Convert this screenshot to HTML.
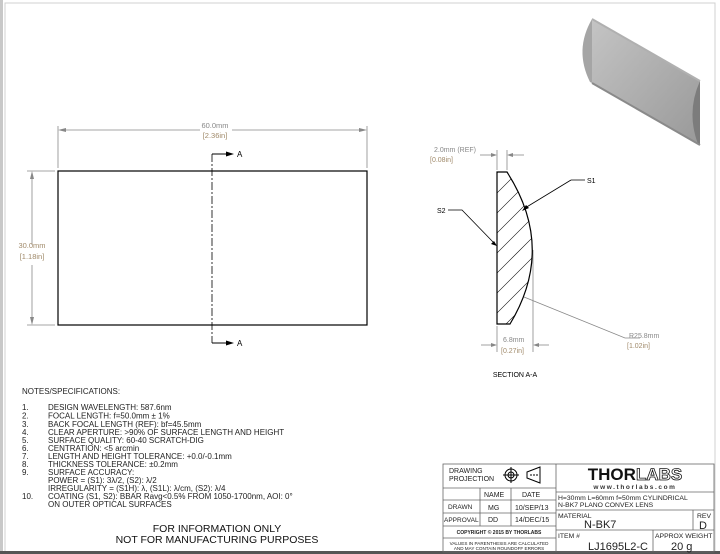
<!DOCTYPE html>
<html><head><style>
body{margin:0;background:#fff;}
svg{display:block;font-family:"Liberation Sans",sans-serif;}
</style></head><body>
<svg width="720" height="554" viewBox="0 0 720 554" xmlns="http://www.w3.org/2000/svg">
<defs>
<linearGradient id="g1" x1="0" y1="0" x2="1" y2="1"><stop offset="0" stop-color="#c4c4c4"/><stop offset="1" stop-color="#999"/></linearGradient>
<clipPath id="lens"><path d="M497,172 L507,172 Q556,248 510,324 L497,324 Z"/></clipPath>
</defs>
<rect x="0" y="0" width="3" height="554" fill="#c8c8c8"/>
<rect x="5" y="3" width="710" height="549" fill="none" stroke="#d0d0d0" stroke-width="1"/>
<rect x="0" y="551" width="720" height="3" fill="#555"/>

<!-- 3D lens -->
<path d="M592,19 L700,81 L700,145 L592,83 Z" fill="url(#g1)"/>
<path d="M592,19 Q574,50 590,82 L592,83 Z" fill="#a5a5a5"/>
<path d="M700,81 Q686,112 698,144 L700,145 Z" fill="#7c7c7c"/>
<path d="M592,19 L700,81" stroke="#b0b0b0" stroke-width="2"/>
<path d="M592,83 L700,145" stroke="#8a8a8a" stroke-width="2"/>

<!-- front view -->
<g stroke="#888" stroke-width="0.8" fill="none">
<line x1="58" y1="126" x2="58" y2="168"/><line x1="367" y1="126" x2="367" y2="168"/>
<line x1="60" y1="130" x2="200" y2="130"/><line x1="232" y1="130" x2="365" y2="130"/>
<line x1="27" y1="171" x2="55" y2="171"/><line x1="27" y1="325" x2="55" y2="325"/>
<line x1="32" y1="173" x2="32" y2="245"/><line x1="32" y1="265" x2="32" y2="323"/>
</g>
<g fill="#888"><path d="M58,130 l8,-2 v4z"/><path d="M367,130 l-8,-2 v4z"/><path d="M32,171 l-2,8 h4z"/><path d="M32,325 l-2,-8 h4z"/></g>
<text x="215" y="128" font-size="7.5" fill="#888" text-anchor="middle">60.0mm</text>
<text x="215" y="138" font-size="7.5" fill="#a08a6a" text-anchor="middle">[2.36in]</text>
<text x="32" y="248" font-size="7.5" fill="#a08a6a" text-anchor="middle">30.0mm</text>
<text x="32" y="259" font-size="7.5" fill="#a08a6a" text-anchor="middle">[1.18in]</text>
<rect x="58" y="171" width="309" height="154" fill="none" stroke="#000" stroke-width="1.2"/>
<line x1="212" y1="154" x2="212" y2="343" stroke="#000" stroke-width="0.8" stroke-dasharray="8,2,2,2"/>
<path d="M212,154 H228 M212,343 H228" stroke="#000" stroke-width="1"/>
<path d="M234,154 l-8,-2.5 v5z M234,343 l-8,-2.5 v5z" fill="#000"/>
<text x="237" y="157" font-size="8">A</text><text x="237" y="346" font-size="8">A</text>

<!-- section -->
<g stroke="#888" stroke-width="0.8" fill="none">
<line x1="497" y1="150" x2="497" y2="170"/><line x1="507" y1="150" x2="507" y2="170"/>
<line x1="480" y1="155" x2="492" y2="155"/><line x1="512" y1="155" x2="524" y2="155"/>
<line x1="497" y1="326" x2="497" y2="352"/><line x1="533" y1="250" x2="533" y2="352"/>
<line x1="481" y1="345" x2="492" y2="345"/><line x1="538" y1="345" x2="549" y2="345"/>
<path d="M524,297 L625,338 H640"/>
</g>
<g fill="#888"><path d="M497,155 l-6,-2 v4z M507,155 l6,-2 v4z M497,345 l-6,-2 v4z M533,345 l6,-2 v4z"/></g>
<text x="434" y="152" font-size="7" fill="#888">2.0mm  (REF)</text>
<text x="430" y="162" font-size="7" fill="#a08a6a">[0.08in]</text>
<text x="503" y="342" font-size="7" fill="#888">6.8mm</text>
<text x="501" y="353" font-size="7" fill="#a08a6a">[0.27in]</text>
<text x="629" y="338" font-size="7" fill="#888">R25.8mm</text>
<text x="627" y="348" font-size="7" fill="#a08a6a">[1.02in]</text>
<g clip-path="url(#lens)" stroke="#000" stroke-width="0.6">
<path d="M480,190 L550,120 M480,210 L550,140 M480,230 L550,160 M480,250 L550,180 M480,270 L550,200 M480,290 L550,220 M480,310 L550,240 M480,330 L550,260 M480,350 L550,280 M480,370 L550,300"/>
</g>
<path d="M497,172 L507,172 Q556,248 510,324 L497,324 Z" fill="none" stroke="#000" stroke-width="1.2"/>
<path d="M571,180 H585 M571,180 L525,208" stroke="#000" stroke-width="0.8" fill="none"/>
<path d="M522,211 l4,-6 l3,3z" fill="#000"/>
<path d="M448,210 H462 L494,243" stroke="#000" stroke-width="0.8" fill="none"/>
<path d="M497,246 l-6,-2 l3,-3z" fill="#000"/>
<text x="587" y="183" font-size="7">S1</text><text x="437" y="213" font-size="7">S2</text>
<text x="515" y="377" font-size="7" text-anchor="middle">SECTION A-A</text>

<!-- notes -->
<g font-size="8" fill="#222">
<text x="22" y="394">NOTES/SPECIFICATIONS:</text>
<text x="22" y="410">1.</text><text x="48" y="410">DESIGN WAVELENGTH: 587.6nm</text>
<text x="22" y="418.5">2.</text><text x="48" y="418.5">FOCAL LENGTH: f=50.0mm ± 1%</text>
<text x="22" y="427">3.</text><text x="48" y="427">BACK FOCAL LENGTH (REF):  bf=45.5mm</text>
<text x="22" y="435">4.</text><text x="48" y="435">CLEAR APERTURE: &gt;90% OF SURFACE LENGTH AND HEIGHT</text>
<text x="22" y="443">5.</text><text x="48" y="443">SURFACE QUALITY: 60-40 SCRATCH-DIG</text>
<text x="22" y="451">6.</text><text x="48" y="451">CENTRATION: &lt;5 arcmin</text>
<text x="22" y="459">7.</text><text x="48" y="459">LENGTH AND HEIGHT TOLERANCE: +0.0/-0.1mm</text>
<text x="22" y="467">8.</text><text x="48" y="467">THICKNESS TOLERANCE: ±0.2mm</text>
<text x="22" y="475">9.</text><text x="48" y="475">SURFACE ACCURACY:</text>
<text x="48" y="483">POWER = (S1): 3λ/2, (S2): λ/2</text>
<text x="48" y="491">IRREGULARITY = (S1H): λ, (S1L): λ/cm, (S2): λ/4</text>
<text x="22" y="499">10.</text><text x="48" y="499">COATING (S1, S2): BBAR Ravg&lt;0.5% FROM 1050-1700nm, AOI: 0°</text>
<text x="48" y="507">ON OUTER OPTICAL SURFACES</text>
</g>
<text x="217" y="532" font-size="10.5" text-anchor="middle" fill="#111">FOR INFORMATION ONLY</text>
<text x="217" y="543" font-size="10.5" text-anchor="middle" fill="#111">NOT FOR MANUFACTURING PURPOSES</text>

<!-- title block -->
<g stroke="#666" stroke-width="0.8" fill="none">
<rect x="443" y="464" width="271" height="88"/>
<line x1="556" y1="464" x2="556" y2="552"/>
<line x1="443" y1="488" x2="556" y2="488"/><line x1="443" y1="500" x2="556" y2="500"/>
<line x1="443" y1="513" x2="556" y2="513"/><line x1="443" y1="526" x2="556" y2="526"/>
<line x1="443" y1="538" x2="556" y2="538"/>
<line x1="480" y1="488" x2="480" y2="526"/><line x1="511" y1="488" x2="511" y2="526"/>
<line x1="556" y1="492" x2="714" y2="492"/><line x1="556" y1="510" x2="714" y2="510"/>
<line x1="556" y1="530" x2="714" y2="530"/>
<line x1="693" y1="510" x2="693" y2="530"/><line x1="653" y1="530" x2="653" y2="552"/>
</g>
<g font-size="7" fill="#222">
<text x="449" y="473">DRAWING</text><text x="449" y="481">PROJECTION</text>
<text x="484" y="497">NAME</text><text x="522" y="497">DATE</text>
<text x="448" y="509" font-size="6.5">DRAWN</text><text x="488" y="510">MG</text><text x="515" y="510">10/SEP/13</text>
<text x="444" y="522" font-size="6.5">APPROVAL</text><text x="488" y="522">DD</text><text x="515" y="522">14/DEC/15</text>
<text x="499" y="534" font-size="5" font-weight="bold" text-anchor="middle">COPYRIGHT © 2015 BY THORLABS</text>
<text x="499" y="545" font-size="4.6" text-anchor="middle">VALUES IN PARENTHESIS ARE CALCULATED</text>
<text x="499" y="550" font-size="4.6" text-anchor="middle">AND MAY CONTAIN ROUNDOFF ERRORS</text>
<text x="558" y="500" font-size="6.8">H=30mm L=60mm f=50mm CYLINDRICAL</text>
<text x="558" y="507" font-size="6.8">N-BK7 PLANO CONVEX LENS</text>
<text x="558" y="518" font-size="6.8">MATERIAL</text>
<text x="584" y="528" font-size="11">N-BK7</text>
<text x="697" y="518" font-size="6.8">REV</text>
<text x="699" y="529" font-size="11">D</text>
<text x="558" y="538" font-size="6.8">ITEM #</text>
<text x="588" y="550" font-size="11">LJ1695L2-C</text>
<text x="655" y="538" font-size="6.8">APPROX WEIGHT</text>
<text x="671" y="550" font-size="11">20 g</text>
</g>
<g stroke="#000" fill="none" stroke-width="1">
<circle cx="511" cy="475" r="6"/><circle cx="511" cy="475" r="3"/>
<path d="M503,475 H519 M511,467 V483"/>
<path d="M527,472 L540,467 V483 L527,478 Z"/>
<path d="M530,475 H538" stroke-dasharray="2,1"/>
</g>
<text x="635" y="480" font-size="17" font-weight="bold" text-anchor="middle" fill="#111">THOR<tspan fill="#fff" stroke="#111" stroke-width="0.8">LABS</tspan></text>
<text x="635" y="489" font-size="6.5" font-weight="bold" text-anchor="middle" letter-spacing="1.6" fill="#333">www.thorlabs.com</text>
</svg>
</body></html>
